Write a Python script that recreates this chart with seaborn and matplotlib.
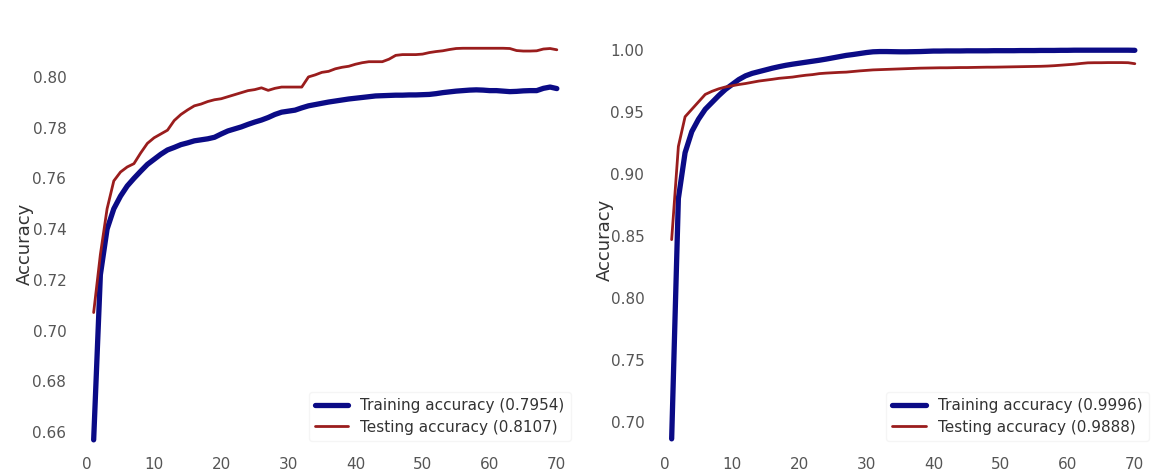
import numpy as np
import pandas as pd
import matplotlib
matplotlib.use("Agg")
import matplotlib.pyplot as plt
import seaborn as sns

epochs = list(range(1, 71))

# Model A accuracy per epoch
train_a = [
    0.6569, 0.7220, 0.7400, 0.7480, 0.7530, 0.7570, 0.7600, 0.7628, 0.7655, 0.7675,
    0.7695, 0.7712, 0.7722, 0.7733, 0.7740, 0.7748, 0.7752, 0.7756, 0.7762, 0.7775,
    0.7787, 0.7795, 0.7803, 0.7813, 0.7822, 0.7830, 0.7840, 0.7852, 0.7861, 0.7865,
    0.7869, 0.7878, 0.7886, 0.7891, 0.7896, 0.7901, 0.7905, 0.7909, 0.7913, 0.7916,
    0.7919, 0.7922, 0.7925, 0.7926, 0.7927, 0.7928, 0.7928, 0.7929, 0.7929, 0.7930,
    0.7931, 0.7934, 0.7938, 0.7941, 0.7944, 0.7946, 0.7948, 0.7949, 0.7948, 0.7946,
    0.7946, 0.7944, 0.7942, 0.7943, 0.7945, 0.7946, 0.7946, 0.7955, 0.7960, 0.7954,
]
test_a = [
    0.7071, 0.7300, 0.7480, 0.7590, 0.7625, 0.7645, 0.7658, 0.7700, 0.7738, 0.7760,
    0.7775, 0.7790, 0.7828, 0.7852, 0.7870, 0.7886, 0.7893, 0.7903, 0.7910, 0.7914,
    0.7922, 0.7930, 0.7938, 0.7946, 0.7950, 0.7957, 0.7947, 0.7955, 0.7960, 0.7960,
    0.7960, 0.7960, 0.8000, 0.8008, 0.8018, 0.8022, 0.8032, 0.8038, 0.8042, 0.8050,
    0.8056, 0.8060, 0.8060, 0.8060, 0.8070, 0.8085, 0.8088, 0.8088, 0.8088, 0.8090,
    0.8096, 0.8100, 0.8103, 0.8108, 0.8112, 0.8113, 0.8113, 0.8113, 0.8113, 0.8113,
    0.8113, 0.8113, 0.8112, 0.8104, 0.8102, 0.8102, 0.8103, 0.8110, 0.8112, 0.8107,
]

# Model B accuracy per epoch
train_b = [
    0.6860, 0.8800, 0.9170, 0.9340, 0.9440, 0.9520, 0.9575, 0.9630, 0.9680, 0.9720,
    0.9760, 0.9790, 0.9810, 0.9824, 0.9838, 0.9852, 0.9864, 0.9875, 0.9884, 0.9892,
    0.9900, 0.9908, 0.9916, 0.9925, 0.9935, 0.9945, 0.9955, 0.9962, 0.9970, 0.9978,
    0.9984, 0.9986, 0.9986, 0.9985, 0.9984, 0.9984, 0.9985, 0.9986, 0.9988, 0.9990,
    0.9990, 0.9991, 0.9991, 0.9991, 0.9992, 0.9992, 0.9992, 0.9992, 0.9993, 0.9993,
    0.9993, 0.9993, 0.9994, 0.9994, 0.9994, 0.9995, 0.9995, 0.9995, 0.9996, 0.9996,
    0.9997, 0.9997, 0.9997, 0.9997, 0.9997, 0.9997, 0.9997, 0.9997, 0.9997, 0.9996,
]
test_b = [
    0.8468, 0.9220, 0.9460, 0.9520, 0.9580, 0.9640, 0.9665, 0.9685, 0.9700, 0.9710,
    0.9720, 0.9728, 0.9738, 0.9748, 0.9755, 0.9762, 0.9770, 0.9775, 0.9780, 0.9788,
    0.9795, 0.9800, 0.9808, 0.9812, 0.9815, 0.9818, 0.9820, 0.9825, 0.9830, 0.9834,
    0.9838, 0.9840, 0.9842, 0.9844, 0.9846, 0.9848, 0.9850, 0.9852, 0.9853, 0.9854,
    0.9855, 0.9855, 0.9856, 0.9857, 0.9857, 0.9858, 0.9859, 0.9860, 0.9860, 0.9861,
    0.9862, 0.9863, 0.9864, 0.9865, 0.9866, 0.9867, 0.9869, 0.9872, 0.9876, 0.9880,
    0.9884, 0.9890, 0.9895, 0.9896, 0.9896, 0.9897, 0.9897, 0.9897, 0.9896, 0.9888,
]

final_labels_a = ["Training accuracy (0.7954)", "Testing accuracy (0.8107)"]
final_labels_b = ["Training accuracy (0.9996)", "Testing accuracy (0.9888)"]
yticks_a = [0.66, 0.68, 0.70, 0.72, 0.74, 0.76, 0.78, 0.80]
yticks_b = [0.70, 0.75, 0.80, 0.85, 0.90, 0.95, 1.00]
xticks = [0, 10, 20, 30, 40, 50, 60, 70]

sns.set_style("white")
plt.rcParams["font.family"] = ["DejaVu Sans"]

W, H = 1153, 475
fig = plt.figure(figsize=(W / 100, H / 100), dpi=100)
fig.patch.set_facecolor("white")

train_color = "#0b0b86"
test_color = "#9a1d1d"


def panel(rect, train, test, labels, yticks, ylim):
    ax = fig.add_axes(rect)
    df = pd.DataFrame({
        "epoch": epochs * 2,
        "acc": train + test,
        "series": [labels[0]] * len(train) + [labels[1]] * len(test),
    })
    sns.lineplot(data=df, x="epoch", y="acc", hue="series",
                 palette=[train_color, test_color], ax=ax,
                 linewidth=2.0, legend=False)
    lines = ax.get_lines()
    lines[0].set_linewidth(3.8)
    lines[1].set_linewidth(2.0)
    lines[1].set_zorder(3)
    lines[0].set_zorder(2)
    ax.set_xlim(-2.45, 73.45)
    ax.set_ylim(*ylim)
    ax.set_xticks(xticks)
    ax.set_yticks(yticks)
    ax.set_yticklabels([f"{t:.2f}" for t in yticks])
    ax.tick_params(axis="both", length=0, labelsize=11, colors="#555555")
    ax.tick_params(axis="y", pad=3)
    ax.tick_params(axis="x", pad=5)
    ax.set_xlabel("")
    ax.set_ylabel("Accuracy", fontsize=13, color="#333333")
    for s in ax.spines.values():
        s.set_visible(False)
    leg = ax.legend(lines, labels, loc="lower right", fontsize=11,
                    handlelength=2.2, frameon=True, framealpha=0.9,
                    edgecolor="#f4f4f4", borderaxespad=0.6,
                    labelspacing=0.45)
    for t in leg.get_texts():
        t.set_color("#333333")
    return ax


ax1 = panel([70.5 / W, 25 / H, 509.5 / W, 420 / H], train_a, test_a,
            final_labels_a, yticks_a, (0.6529, 0.8185))
ax1.yaxis.set_label_coords(-0.072, 0.49)

ax2 = panel([648.5 / W, 25 / H, 509.5 / W, 420 / H], train_b, test_b,
            final_labels_b, yticks_b, (0.677, 1.016))
ax2.yaxis.set_label_coords(-0.068, 0.5)

fig.savefig("out.png", dpi=100)
